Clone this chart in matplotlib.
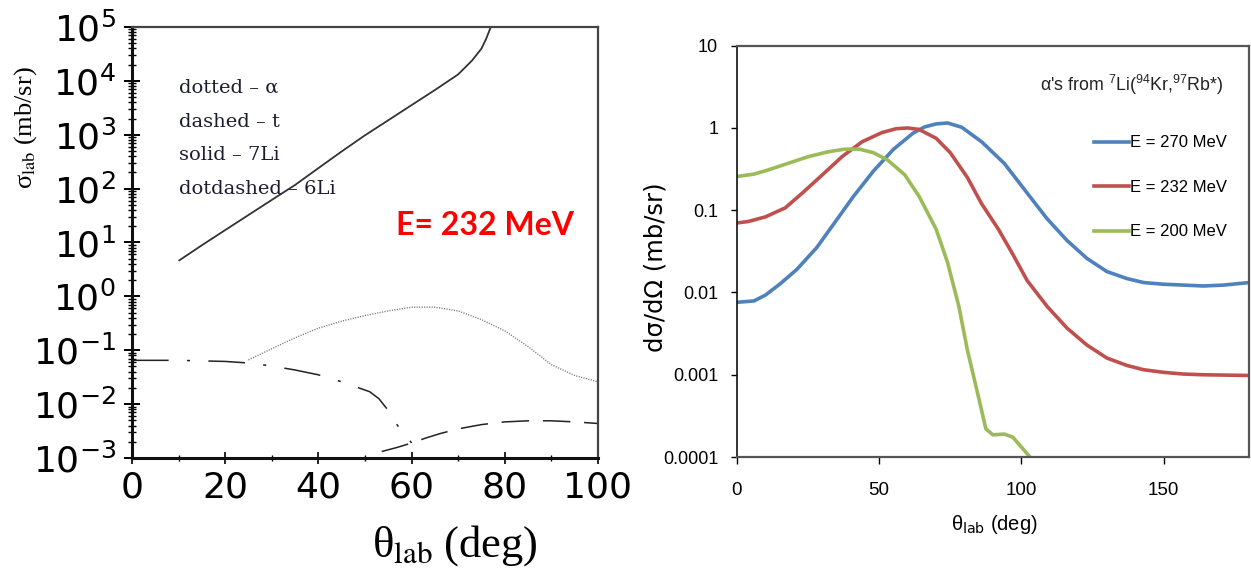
import matplotlib
matplotlib.use("Agg")
import matplotlib.pyplot as plt
from matplotlib.ticker import LogLocator, FixedLocator, NullFormatter, FixedFormatter, MultipleLocator

# ---------------- Left panel data ----------------
theta_7Li = [10, 15, 20, 25, 30, 35, 40, 45, 50, 55, 60, 65, 70, 73, 75, 76, 77]
sig_7Li = [4.57, 8.9, 17.0, 32.4, 61.7, 117, 240, 490, 977, 1860, 3550, 6760, 13200, 24000, 39800, 60300, 100000]

theta_alpha = [25, 30, 35, 40, 45, 50, 55, 60, 65, 70, 75, 80, 85, 90, 95, 100]
sig_alpha = [0.066, 0.107, 0.17, 0.257, 0.347, 0.44, 0.537, 0.63, 0.63, 0.537, 0.37, 0.229, 0.117, 0.054, 0.034, 0.026]

theta_6Li = [0, 10, 20, 25, 30, 35, 40, 45, 48, 51, 53, 55, 57, 59, 60]
sig_6Li = [0.065, 0.065, 0.062, 0.058, 0.051, 0.043, 0.035, 0.026, 0.021, 0.017, 0.0126, 0.0076, 0.004, 0.0025, 0.0019]

theta_t = [53.6, 57, 60, 63, 66, 70, 75, 80, 85, 90, 95, 100]
sig_t = [0.00132, 0.00158, 0.0019, 0.00234, 0.00282, 0.00347, 0.00417, 0.00468, 0.0049, 0.0049, 0.00468, 0.00437]

left_labels = ["dotted \u2013 \u03b1", "dashed \u2013 t", "solid \u2013 7Li", "dotdashed \u2013 6Li"]
left_xticks = [0, 20, 40, 60, 80, 100]

# ---------------- Right panel data ----------------
theta_270 = [0, 6, 10, 15, 21, 28, 34, 41, 48, 55, 62, 66, 70, 74, 79, 86, 94, 102, 109, 116, 123, 130, 137, 143, 150, 157, 164, 171, 180]
xs_270 = [0.0076, 0.0079, 0.0093, 0.0126, 0.019, 0.035, 0.068, 0.148, 0.30, 0.55, 0.87, 1.03, 1.12, 1.15, 1.02, 0.68, 0.37,
          0.162, 0.079, 0.043, 0.026, 0.018, 0.0148, 0.0132, 0.0126, 0.0123, 0.0120, 0.0123, 0.0132]

theta_232 = [0, 4, 10, 17, 23, 30, 37, 44, 51, 56, 60, 64, 70, 75, 81, 86, 92, 97, 102, 109, 116, 123, 130, 137, 143, 150, 157, 164, 180]
xs_232 = [0.070, 0.073, 0.083, 0.107, 0.162, 0.269, 0.45, 0.68, 0.88, 0.98, 1.0, 0.96, 0.75, 0.50, 0.25, 0.12, 0.058,
          0.029, 0.014, 0.0068, 0.0037, 0.0023, 0.0016, 0.0013, 0.00115, 0.00107, 0.00102, 0.00100, 0.00098]

theta_200 = [0, 6, 11, 18, 25, 32, 38, 43, 48, 53, 59, 64, 70, 74, 78, 81, 85, 87.5, 90, 94, 97, 100.5, 103]
xs_200 = [0.257, 0.275, 0.309, 0.372, 0.447, 0.513, 0.553, 0.553, 0.50, 0.407, 0.269, 0.148, 0.059, 0.0234, 0.0068,
          0.0020, 0.00052, 0.00022, 0.000186, 0.00019, 0.000174, 0.000126, 0.0001]

right_series = ["E = 270 MeV", "E = 232 MeV", "E = 200 MeV"]
right_colors = ["#4F81BD", "#C0504D", "#9BBB59"]
right_yticks = [0.0001, 0.001, 0.01, 0.1, 1, 10]
right_yticklabels = ["0.0001", "0.001", "0.01", "0.1", "1", "10"]
right_xticks = [0, 50, 100, 150]

# ---------------- Figure ----------------
plt.rcParams['mathtext.fontset'] = 'dejavusans'
plt.rcParams['mathtext.default'] = 'regular'

fig = plt.figure(figsize=(12.51, 5.72), dpi=100)

# Left axes
axL = fig.add_axes([0.1055, 0.1993, 0.3725, 0.7535])
axL.set_yscale('log')
axL.set_xlim(0, 100)
axL.set_ylim(1e-3, 1e5)

axL.plot(theta_7Li, sig_7Li, color='#333333', lw=1.3, solid_capstyle='butt')
axL.plot(theta_alpha, sig_alpha, color='#777777', lw=1.0, linestyle=(0, (0.8, 1.0)))
axL.plot(theta_6Li, sig_6Li, color='#222222', lw=1.1, linestyle=(0, (24, 12, 2, 12)))
axL.plot(theta_t, sig_t, color='#222222', lw=1.1, linestyle=(0, (18, 9)))

for sp in ['left', 'bottom']:
    axL.spines[sp].set_linewidth(2.2)
    axL.spines[sp].set_color('#111111')
for sp in ['top', 'right']:
    axL.spines[sp].set_linewidth(1.6)
    axL.spines[sp].set_color('#444444')

axL.yaxis.set_major_locator(LogLocator(base=10, numticks=20))
axL.yaxis.set_minor_locator(LogLocator(base=10, subs=range(2, 10), numticks=100))
axL.yaxis.set_minor_formatter(NullFormatter())
axL.xaxis.set_major_locator(FixedLocator(left_xticks))
axL.xaxis.set_minor_locator(MultipleLocator(10))
axL.tick_params(axis='y', which='major', direction='inout', length=11, width=1.4, pad=6,
                labelsize=26, left=True, right=False)
axL.tick_params(axis='y', which='minor', direction='inout', length=6, width=1.0, left=True, right=False)
axL.tick_params(axis='x', which='major', direction='inout', length=8, width=1.2, pad=5,
                labelsize=26, top=False)
axL.tick_params(axis='x', which='minor', direction='inout', length=5, width=1.0, top=False)
for lab in axL.get_xticklabels() + axL.get_yticklabels():
    lab.set_fontfamily('DejaVu Sans')

axL.set_xlabel(r'$\theta_{\rm lab}$ (deg)', fontsize=32, family='Liberation Serif',
               math_fontfamily='stix')
axL.xaxis.set_label_coords(0.693, -0.202)
axL.xaxis.label.set_va('center')
axL.set_ylabel(r'$\sigma_{\rm lab}$ (mb/sr)', fontsize=19, family='Liberation Serif',
               math_fontfamily='stix')
axL.yaxis.set_label_coords(-0.228, 0.766)
axL.yaxis.label.set_va('center')

ys = [88, 122, 155, 189]
for lab, yp in zip(left_labels, ys):
    axL.text((179 - 132) / 466, (458 - yp) / 431, lab, transform=axL.transAxes,
             fontsize=14, family='DejaVu Serif', color='#1c1c30',
             va='center', ha='left')

axL.text((396 - 132) / 466, (458 - 226) / 431, 'E= 232 MeV', transform=axL.transAxes,
         fontsize=23, family='Lato', fontweight='bold', color='#FF0000', va='center', ha='left')

# Right axes
axR = fig.add_axes([0.5891, 0.2010, 0.4093, 0.7191])
axR.set_yscale('log')
axR.set_xlim(0, 180)
axR.set_ylim(1e-4, 10)

for x, y, lab, c in zip([theta_270, theta_232, theta_200], [xs_270, xs_232, xs_200], right_series, right_colors):
    axR.plot(x, y, color=c, lw=2.6, label=lab, solid_joinstyle='round')

sans = ['Liberation Sans', 'DejaVu Sans']
axR.yaxis.set_major_locator(FixedLocator(right_yticks))
axR.yaxis.set_major_formatter(FixedFormatter(right_yticklabels))
axR.yaxis.set_minor_locator(FixedLocator([]))
axR.xaxis.set_major_locator(FixedLocator(right_xticks))
axR.xaxis.set_minor_locator(FixedLocator([]))
axR.tick_params(axis='y', direction='out', length=4.5, width=1.0, pad=9, labelsize=13)
axR.tick_params(axis='x', direction='out', length=5, width=1.0, pad=13, labelsize=13.5)
for lab in axR.get_xticklabels() + axR.get_yticklabels():
    lab.set_fontfamily(sans)
axR.spines['left'].set_color('#111111')
axR.spines['left'].set_linewidth(1.2)
for sp in ['top', 'right', 'bottom']:
    axR.spines[sp].set_color('#555555')
    axR.spines[sp].set_linewidth(1.6)

axR.set_xlabel(r'$\theta_{\rm lab}$ (deg)', fontsize=14.5, family=sans)
axR.xaxis.set_label_coords(0.502, -0.165)
axR.xaxis.label.set_va('center')
axR.set_ylabel('d\u03c3/d\u03a9 (mb/sr)', fontsize=17.5, family=['DejaVu Sans'])
axR.yaxis.set_label_coords(-0.16, 0.462)
axR.yaxis.label.set_va('center')

axR.text(0.949, 0.905, r"α's from $^{7}$Li($^{94}$Kr,$^{97}$Rb*)", transform=axR.transAxes,
         fontsize=12.8, family=sans, ha='right', va='center', color='#222222')

leg = axR.legend(loc='upper left', bbox_to_anchor=((1094 - 737) / 512, (457 - 135.4) / 411.3),
                 frameon=False, handlelength=2.08, handletextpad=0.06,
                 labelspacing=1.77, borderaxespad=0, borderpad=0, prop={'family': sans, 'size': 12})

fig.savefig('out.png', dpi=100)
